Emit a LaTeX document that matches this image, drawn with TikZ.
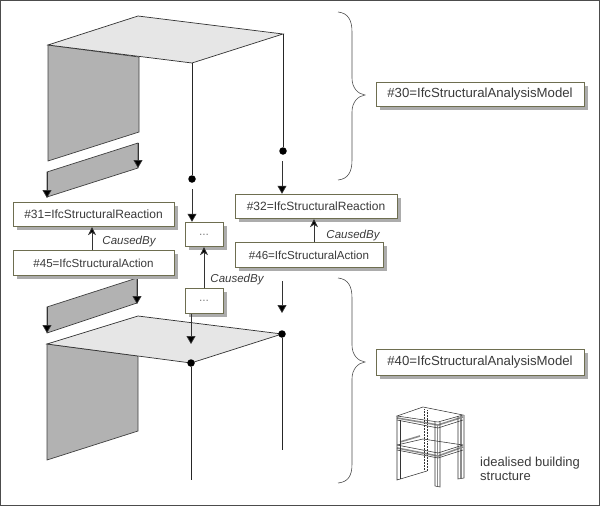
\documentclass[tikz,border=0pt]{standalone}
\usepackage{fontspec}
\setmainfont{Liberation Sans}
\usetikzlibrary{arrows.meta,shadows}
\definecolor{boxline}{HTML}{6E6E50}
\definecolor{wallgray}{HTML}{B2B2B2}
\definecolor{plategray}{HTML}{E6E6E6}
\definecolor{inkgray}{HTML}{3A3A3A}
\tikzset{
  modelbox/.style={draw=boxline,fill=white,line width=0.9pt,text=inkgray,font=\fontsize{12}{14}\selectfont,
    minimum height=24.5pt,inner sep=0pt,
    drop shadow={shadow xshift=3.5pt,shadow yshift=-3.5pt,fill=gray!65,opacity=1}},
  causelabel/.style={text=inkgray,font=\fontsize{11.5}{13}\selectfont\itshape,inner sep=0pt},
  hinge/.style={circle,fill=black,inner sep=0pt,minimum size=7.5pt},
  wall/.style={fill=wallgray,draw=black!75,line width=0.7pt},
  plate/.style={fill=plategray,draw=black!80,line width=0.7pt},
  load/.style={draw=black!80,line width=0.7pt,-{Triangle[length=8pt,width=9pt,fill=black]}},
  cause/.style={draw=black!80,line width=0.7pt,-{Stealth[length=8pt,width=8pt,inset=2.5pt,fill=black]}},
  member/.style={draw=black!85,line width=0.7pt},
  curly/.style={draw=black!70,line width=0.6pt},
  sketch/.style={draw=black!80,line width=0.55pt},
  beam/.style={draw=black!45,line width=1.6pt},
}
\begin{document}
\begin{tikzpicture}[x=1pt,y=-1pt]
  \useasboundingbox (0,0) rectangle (600,506);
  \draw[black!70,line width=1pt] (0.5,0.5) rectangle (599.5,505.5);

  % upper model
  \draw[wall] (48,45) -- (139,57) -- (139,132) -- (48,161) -- cycle;
  \draw[plate] (48,45) -- (138,16) -- (283,34) -- (192,63) -- cycle;
  \draw[wall] (138,143) -- (138,168) -- (47,197) -- (47,172) -- cycle;
  \coordinate (uppercol1) at (192,63);
  \coordinate (uppercol2) at (283,34);
  \node[hinge] (upperdot1) at (192,179) {};
  \node[hinge] (upperdot2) at (283,151) {};
  \draw[member] (uppercol1) -- (upperdot1);
  \draw[member] (uppercol2) -- (upperdot2);
  \coordinate (upperload1a) at (138,143);
  \coordinate (upperload1b) at (138,168);
  \coordinate (upperload2a) at (47,172);
  \coordinate (upperload2b) at (47,198);
  \draw[load] (upperload1a) -- (upperload1b);
  \draw[load] (upperload2a) -- (upperload2b);

  % lower model
  \draw[wall] (47,344) -- (138,356) -- (138,431) -- (47,460) -- cycle;
  \draw[plate] (47,344) -- (138,316) -- (282,334) -- (191,363) -- cycle;
  \draw[wall] (137,278) -- (137,303) -- (47,333) -- (47,307) -- cycle;
  \node[hinge] (lowerdot1) at (191,363) {};
  \node[hinge] (lowerdot2) at (282,334) {};
  \coordinate (lowerend1) at (191,480);
  \coordinate (lowerend2) at (282,450);
  \draw[member] (lowerdot1) -- (lowerend1);
  \draw[member] (lowerdot2) -- (lowerend2);
  \coordinate (lowerload1a) at (137,278);
  \coordinate (lowerload1b) at (137,304);
  \coordinate (lowerload2a) at (47,307);
  \coordinate (lowerload2b) at (47,333);
  \draw[load] (lowerload1a) -- (lowerload1b);
  \draw[load] (lowerload2a) -- (lowerload2b);

  % boxes
  \node[modelbox,minimum width=161pt] (reaction31) at (93.5,214.5) {\#31=IfcStructuralReaction};
  \node[modelbox,minimum width=161pt,font=\fontsize{11.6}{14}\selectfont] (action45) at (93.5,263) {\#45=IfcStructuralAction};
  \node[modelbox,minimum width=38pt] (dots1) at (204,234.5) {\textcolor{gray}{...}};
  \node[modelbox,minimum width=38pt] (dots2) at (204,301) {\textcolor{gray}{...}};
  \node[modelbox,minimum width=162pt] (reaction32) at (316,206.5) {\#32=IfcStructuralReaction};
  \node[modelbox,minimum width=148pt,font=\fontsize{11.6}{14}\selectfont] (action46) at (309,255) {\#46=IfcStructuralAction};
  \node[modelbox,minimum width=208pt,font=\fontsize{13.2}{15}\selectfont] (model30) at (480,94.5) {\#30=IfcStructuralAnalysisModel};
  \node[modelbox,minimum width=208pt,minimum height=26pt,font=\fontsize{13.2}{15}\selectfont] (model40) at (480,362.5) {\#40=IfcStructuralAnalysisModel};

  % load arrows
  \coordinate (arrowa) at (192,189);
  \coordinate (arrowb) at (282,161);
  \coordinate (arrowc) at (282,281);
  \coordinate (arrowd) at (282,313);
  \coordinate (arrowe) at (191,344);
  \draw[load] (arrowa) -- (dots1.north -| arrowa);
  \draw[load] (arrowb) -- (reaction32.north -| arrowb);
  \draw[load] (arrowc) -- (arrowd);
  \draw[load] (dots2.south -| arrowe) -- (arrowe);

  % caused by
  \draw[cause] (action45.north -| 92,0) -- (reaction31.south -| 92,0);
  \draw[cause] (dots2.north) -- (dots1.south);
  \draw[cause] (action46.north -| 314,0) -- (reaction32.south -| 314,0);
  \node[causelabel] (cause45) at (129,242) {CausedBy};
  \node[causelabel] (cause40) at (237,280) {CausedBy};
  \node[causelabel] (cause46) at (353,236) {CausedBy};

  % braces
  \draw[curly] (338,12) .. controls (348,13) and (352,20) .. (352,32) -- (352,78)
    .. controls (352,88) and (358,94) .. (365,95) .. controls (358,96) and (352,102) .. (352,112)
    -- (352,160) .. controls (352,172) and (348,179) .. (338,180);
  \draw[curly] (338,278) .. controls (348,279) and (352,286) .. (352,298) -- (352,345)
    .. controls (352,355) and (358,361) .. (365,362) .. controls (358,363) and (352,369) .. (352,379)
    -- (352,464) .. controls (352,476) and (348,482) .. (338,483);

  % small building
  \begin{scope}[beam]
    \draw (397,418) -- (438,425) -- (463,417);
    \draw (397,448) -- (438,456) -- (463,447);
    \draw (437.5,424) -- (437.5,486);
    \draw (461,416) -- (461,478);
    \draw (400,442) -- (420,436);
  \end{scope}
  \begin{scope}[sketch]
    \draw (397,416) -- (423,407) -- (463,415) -- (438,422) -- cycle;
    \draw (397,420) -- (438,428) -- (463,420);
    \draw (397,445) -- (438,453) -- (463,445);
    \draw (397,450) -- (438,458) -- (463,450);
    \draw (397,445) -- (423,439) -- (463,445);
    \draw (397,416) -- (397,480) -- (427,471);
    \draw (400,420) -- (400,479);
    \draw (435,422) -- (435,486) -- (440,487) -- (440,422);
    \draw (458,416) -- (458,479) -- (464,478) -- (464,415);
    \draw[densely dotted] (424,409) -- (424,471);
    \draw[densely dotted] (427,410) -- (427,471);
  \end{scope}
  \node[text=inkgray,font=\fontsize{13}{14.5}\selectfont,align=left,inner sep=0pt,anchor=west] (buildinglabel) at (480,469) {idealised building\\structure};
\end{tikzpicture}
\end{document}
